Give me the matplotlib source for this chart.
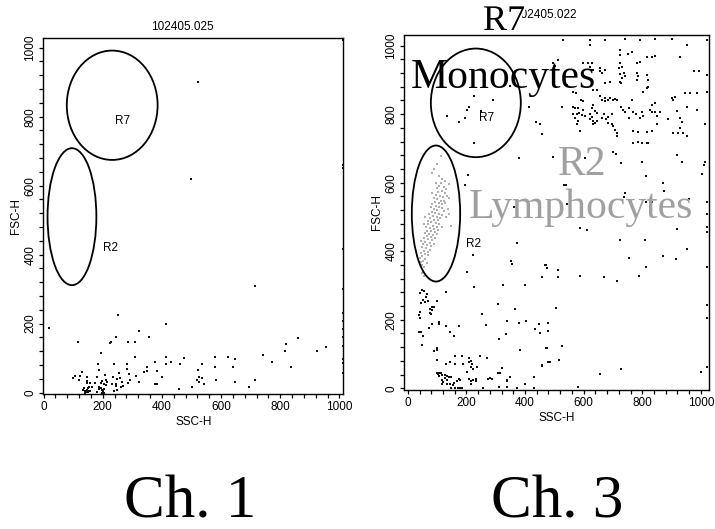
import numpy as np
import matplotlib
matplotlib.use("Agg")
import matplotlib.pyplot as plt
import matplotlib.patheffects as pe
from matplotlib.patches import Ellipse

plt.rcParams['font.family'] = ['Liberation Sans Narrow', 'Liberation Sans', 'DejaVu Sans']

# SSC-H / FSC-H events, tube 102405.025 (Ch. 1)
ch1_events = [
    (17, 188), (116, 147), (250, 226), (194, 116), (225, 143), (229, 147), (245, 162), (284, 146),
    (310, 146), (323, 178), (357, 162), (413, 200), (310, 104), (413, 104), (413, 83), (431, 88),
    (476, 99), (462, 83), (376, 88), (351, 73), (349, 62), (338, 61), (323, 31), (311, 48),
    (290, 55), (292, 36), (287, 28), (282, 84), (282, 68), (237, 84), (255, 56), (234, 45),
    (248, 40), (259, 42), (265, 30), (270, 20), (262, 15), (246, 18), (248, 8), (244, 25),
    (231, 26), (237, 6), (209, 51), (210, 37), (214, 30), (205, 25), (210, 22), (197, 35),
    (195, 27), (194, 12), (197, 8), (201, 4), (205, 10), (186, 17), (188, 10), (180, 46),
    (175, 27), (184, 84), (186, 67), (146, 46), (146, 34), (146, 27), (136, 12), (140, 6),
    (143, 3), (146, 9), (150, 14), (155, 16), (154, 6), (158, 4), (146, 2), (140, 0),
    (132, 9), (122, 49), (119, 36), (107, 49), (101, 42), (130, 61), (158, 27), (163, 17),
    (180, 3), (198, 0), (203, 0), (150, 2), (144, 5), (382, 63), (400, 44), (382, 25),
    (376, 25), (459, 10), (501, 16), (519, 38), (524, 44), (527, 30), (537, 42), (541, 26),
    (522, 67), (534, 83), (578, 104), (578, 73), (584, 36), (625, 104), (648, 98), (639, 73),
    (648, 30), (693, 15), (715, 36), (715, 310), (741, 110), (772, 89), (817, 120), (820, 142),
    (837, 73), (859, 157), (925, 120), (955, 131), (521, 900), (499, 620),
    (1011, 1022), (1011, 660), (1011, 650), (1011, 415), (1011, 300), (1011, 230), (1011, 209),
    (1011, 184), (1011, 160), (1011, 135), (1011, 97), (1011, 85), (1011, 56),
]

# tube 102405.022 (Ch. 3), events outside the lymphocyte band
ch3_events = [
    (531, 1016), (622, 1016), (622, 1002), (673, 1016), (741, 1018), (792, 1016), (843, 1018),
    (900, 1018), (952, 1002), (1020, 1016), (725, 987), (725, 973), (753, 977), (764, 982),
    (725, 948), (730, 939), (815, 968), (832, 968), (843, 970), (792, 953), (781, 948), (929, 968),
    (497, 948), (503, 940), (514, 958), (599, 949), (616, 950), (627, 948), (622, 939), (633, 929),
    (656, 934), (673, 929), (656, 925), (662, 920), (719, 934), (724, 918), (730, 905), (724, 895),
    (728, 890), (736, 920), (742, 910), (781, 920), (787, 910), (781, 900), (815, 915), (818, 900),
    (975, 925), (992, 927), (1020, 915), (543, 885), (565, 866), (575, 861), (592, 842), (599, 837),
    (633, 871), (645, 871), (656, 852), (662, 842), (673, 847), (673, 837), (684, 842), (690, 847),
    (699, 842), (707, 845), (715, 840), (673, 890), (690, 895), (764, 842), (815, 876), (821, 880),
    (804, 866), (900, 847), (906, 842), (912, 851), (946, 861), (963, 861), (986, 861), (1020, 866),
    (526, 822), (565, 822), (571, 817), (582, 817), (599, 812), (633, 827), (630, 817), (639, 808),
    (645, 803), (565, 800), (576, 800), (585, 803), (593, 797), (605, 795), (571, 790), (582, 780),
    (622, 800), (628, 792), (620, 785), (631, 780), (639, 775), (645, 780), (633, 770), (662, 790),
    (671, 800), (676, 787), (684, 792), (696, 800), (684, 775), (696, 770), (701, 765), (707, 755),
    (713, 745), (713, 735), (728, 822), (733, 812), (741, 807), (755, 817), (755, 790), (767, 805),
    (778, 800), (798, 805), (803, 795), (792, 790), (832, 827), (843, 832), (826, 812), (832, 807),
    (843, 807), (849, 795), (860, 805), (850, 770), (832, 750), (821, 715), (815, 715), (798, 715),
    (787, 720), (770, 715), (918, 810), (929, 790), (935, 778), (929, 760), (889, 787), (906, 745),
    (923, 745), (940, 745), (952, 735), (952, 822), (986, 812), (1014, 770), (770, 750), (787, 748),
    (815, 748), (576, 770), (588, 750), (451, 770), (226, 853), (207, 822), (201, 812), (290, 841),
    (249, 808), (133, 794), (173, 778), (196, 788), (226, 715), (415, 820), (438, 778), (457, 742),
    (378, 671), (349, 882), (497, 676), (605, 671), (701, 690), (710, 685), (728, 657), (799, 661),
    (918, 681), (937, 661), (1014, 661), (1011, 651), (1003, 624), (813, 620), (539, 594), (870, 598),
    (875, 577), (742, 571), (739, 557), (813, 544), (832, 544), (961, 553), (1022, 544), (1022, 510),
    (543, 539), (586, 467), (611, 462), (918, 465), (1022, 471), (1022, 456), (724, 434), (810, 434),
    (952, 406), (755, 381), (872, 386), (914, 376), (813, 355), (468, 360), (474, 351), (457, 324),
    (514, 346), (514, 324), (586, 328), (670, 324), (715, 312), (789, 327), (1022, 355), (506, 233),
    (1022, 243), (1022, 204), (451, 161), (479, 166), (473, 118), (527, 123), (457, 67), (484, 76),
    (517, 82), (656, 43), (728, 57), (999, 47), (1022, 62), (582, 5), (533, 593), (326, 301),
    (372, 423), (361, 530), (204, 623), (196, 593), (222, 389), (353, 370),
    (48, 287), (56, 285), (42, 277), (65, 274), (62, 267), (51, 257), (59, 252), (44, 250),
    (70, 254), (82, 237), (74, 232), (88, 237), (42, 223), (37, 213), (40, 206), (74, 221),
    (79, 216), (84, 228), (101, 254), (130, 280), (201, 338), (226, 296), (355, 364), (400, 301),
    (471, 359), (309, 245), (366, 230), (252, 218), (337, 196), (404, 196), (108, 194), (108, 189),
    (82, 187), (73, 175), (131, 181), (174, 181), (39, 165), (44, 165), (53, 153), (50, 126),
    (144, 164), (156, 152), (266, 186), (378, 191), (449, 189), (434, 174), (478, 191), (311, 143),
    (334, 158), (382, 112), (474, 118), (90, 108), (101, 111), (99, 117), (99, 82), (130, 72),
    (144, 78), (160, 94), (185, 95), (162, 72), (188, 72), (210, 88), (214, 80), (210, 76),
    (218, 72), (216, 63), (222, 57), (245, 95), (236, 63), (270, 88), (201, 47),
    (100, 46), (106, 45), (112, 44), (103, 41), (108, 37), (117, 39), (126, 40), (134, 37),
    (139, 33), (146, 33), (126, 29), (117, 25), (134, 24), (121, 17), (115, 11), (132, 11),
    (145, 13), (153, 10), (158, 16), (168, 22), (173, 27), (178, 24), (146, 2), (160, 1),
    (172, 1), (178, 2), (185, 1), (208, 27), (215, 22), (222, 24), (214, 12), (232, 27),
    (233, 20), (258, 2), (275, 27), (286, 27), (280, 31), (307, 44), (315, 46), (321, 60),
    (338, 24), (340, 22), (349, 34), (372, 1), (400, 11), (312, 3), (340, 3), (429, 33),
    (429, 1), (457, 65), (480, 78),
]

# Ch. 3 events falling in the R2 (lymphocyte) gate
ch3_r2_events = [
    (113, 678), (82, 629), (118, 610), (139, 596), (112, 598), (108, 590), (122, 588), (130, 582),
    (100, 585), (116, 575), (126, 570), (104, 572), (95, 565), (110, 562), (120, 558), (132, 560),
    (88, 555), (100, 552), (112, 548), (124, 546), (92, 545), (105, 540), (118, 538), (84, 538),
    (96, 532), (108, 530), (78, 528), (115, 525), (90, 522), (100, 520), (122, 518), (82, 515),
    (94, 512), (106, 510), (72, 508), (115, 505), (86, 502), (98, 500), (110, 498), (76, 496),
    (90, 492), (102, 490), (68, 488), (80, 485), (95, 482), (108, 480), (70, 478), (85, 475),
    (98, 472), (148, 473), (62, 470), (76, 468), (90, 465), (102, 462), (66, 460), (80, 458),
    (92, 455), (58, 452), (72, 450), (86, 448), (64, 445), (78, 442), (94, 440), (56, 438),
    (70, 435), (84, 432), (60, 428), (74, 425), (52, 422), (66, 418), (80, 415), (48, 412),
    (62, 410), (74, 405), (54, 402), (68, 398), (46, 395), (58, 392), (70, 388), (50, 385),
    (42, 380), (60, 378), (52, 372), (44, 368), (64, 365), (48, 360), (56, 355), (128, 540),
    (136, 522), (130, 500), (140, 510), (60, 500), (55, 480), (118, 470), (45, 430), (88, 420),
    (100, 450), (95, 600), (128, 606), (105, 620), (140, 555), (84, 570), (48, 335), (54, 328),
    (100, 655), (90, 640),
]

# gates (centre x, centre y, width, height) in channel units
gate_r7 = (232, 833, 307, 317)
gate_r2 = (96, 510, 165, 397)

tick_labels = [0, 200, 400, 600, 800, 1000]

fig = plt.figure(figsize=(7.15, 5.29), dpi=100)
ax1 = fig.add_axes([0.0605, 0.2552, 0.4196, 0.673])
ax2 = fig.add_axes([0.5655, 0.2628, 0.4266, 0.671])


def dot_plot(ax, title, xlim, ylim, title_y):
    for sp in ax.spines.values():
        sp.set_linewidth(1.0)
    ax.set_xlim(*xlim)
    ax.set_ylim(*ylim)
    ax.set_xticks(tick_labels)
    ax.set_yticks(tick_labels)
    ax.set_xticks(np.arange(0, 1001, 40), minor=True)
    ax.set_yticks(np.arange(0, 1001, 40), minor=True)
    ax.tick_params(which='both', direction='out', length=3, width=0.9, labelsize=8.5, pad=2)
    ax.tick_params(axis='y', labelrotation=90, pad=2)
    for lab in ax.get_yticklabels():
        lab.set_va('center')
    ax.set_xlabel('SSC-H', fontsize=8.5, labelpad=2)
    ax.set_ylabel('FSC-H', fontsize=8.5, labelpad=2)
    ax.text(0.463, title_y, title, transform=ax.transAxes, ha='center', va='center', fontsize=8.5)
    for (cx, cy, w, h) in (gate_r7, gate_r2):
        ax.add_patch(Ellipse((cx, cy), w, h, fill=False, edgecolor='black', lw=1.3, zorder=3))
    ax.text(267, 788, 'R7', fontsize=8.5, ha='center', va='center')
    ax.text(225, 420, 'R2', fontsize=8.5, ha='center', va='center')


dot_plot(ax1, '102405.025', (-1, 1013), (-4, 1028), 1.032)
dot_plot(ax2, '102405.022', (-12, 1029), (-5, 1031), 1.056)

e1 = np.array(ch1_events)
ax1.scatter(e1[:, 0], e1[:, 1], s=1.6, marker='s', c='#111111', linewidths=0, clip_on=False, zorder=2)

e3 = np.array(ch3_events)
ax2.scatter(e3[:, 0], e3[:, 1], s=1.6, marker='s', c='#111111', linewidths=0, clip_on=False, zorder=2)
g3 = np.array(ch3_r2_events)
ax2.scatter(g3[:, 0], g3[:, 1], s=1.6, marker='s', c='#b0b0b0', linewidths=0, zorder=2)

# population annotations
serif = ['Liberation Serif', 'DejaVu Serif']
fig.text(504 / 715, 1 - 30 / 529, 'R7', family=serif, fontsize=26, ha='center', va='baseline', zorder=5,
         path_effects=[pe.withStroke(linewidth=3, foreground='white')])
fig.text(503 / 715, 1 - 88 / 529, 'Monocytes', family=serif, fontsize=30, ha='center', va='baseline', zorder=5)
fig.text(582 / 715, 1 - 175 / 529, 'R2', family=serif, fontsize=30, color='#a0a0a0', ha='center', va='baseline', zorder=5)
fig.text(581 / 715, 1 - 218 / 529, 'Lymphocytes', family=serif, fontsize=30, color='#a0a0a0', ha='center', va='baseline', zorder=5)

fig.text(190 / 715, 1 - 518 / 529, 'Ch. 1', family=serif, fontsize=44, ha='center', va='baseline')
fig.text(557 / 715, 1 - 518 / 529, 'Ch. 3', family=serif, fontsize=44, ha='center', va='baseline')

fig.savefig('out.png', dpi=100)
